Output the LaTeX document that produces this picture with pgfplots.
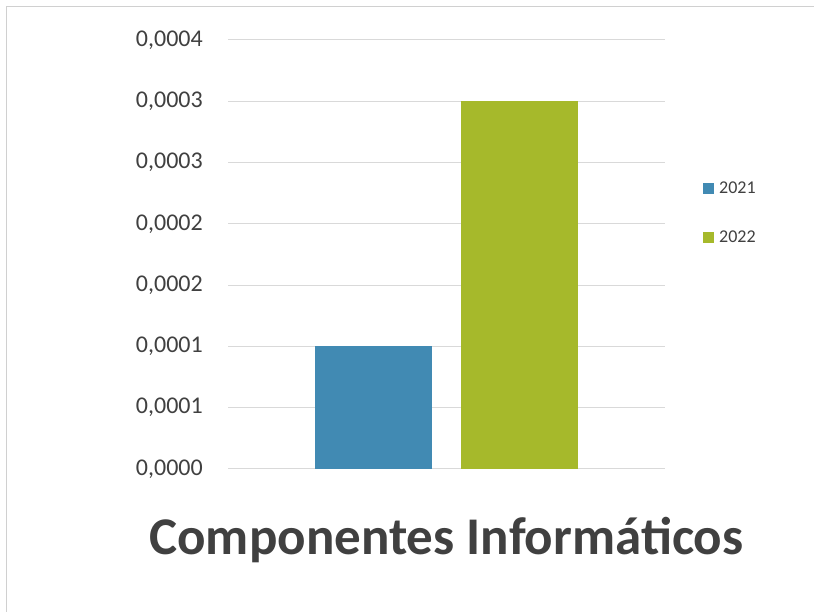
\documentclass[border=0pt]{standalone}
\usepackage{fontspec}
\setmainfont{Carlito}
\usepackage{pgfplots}
\pgfplotsset{compat=1.18}
\definecolor{blue21}{HTML}{418AB3}
\definecolor{green22}{HTML}{A6B92B}
\definecolor{gridc}{HTML}{D9D9D9}
\definecolor{framec}{HTML}{D0D0D0}
\definecolor{txt}{HTML}{404040}
\begin{document}
\begin{tikzpicture}[x=1pt,y=1pt]
\useasboundingbox (0,0) rectangle (814,612);
\fill[white] (0,0) rectangle (814,612);
\draw[color=framec, line width=1pt] (6.5,0) -- (6.5,605.5) -- (814,605.5);
\begin{axis}[
  at={(228pt,143pt)}, anchor=south west,
  scale only axis, width=437pt, height=429pt,
  xmin=-1, xmax=1, ymin=0, ymax=0.00035,
  xtick=\empty,
  ytick={0,0.00005,0.0001,0.00015,0.0002,0.00025,0.0003,0.00035},
  yticklabels={{0,0000},{0,0001},{0,0001},{0,0002},{0,0002},{0,0003},{0,0003},{0,0004}},
  scaled y ticks=false,
  major tick length=0pt,
  axis line style={draw=none},
  ymajorgrids, grid style={color=gridc, line width=1pt},
  yticklabel style={font=\fontsize{24}{24}\selectfont, text=txt, anchor=east, inner sep=0pt, xshift=-25pt},
  legend style={at={(1.087,0.597)}, anchor=west, draw=none, fill=none,
    font=\fontsize{18}{18}\selectfont, text=txt, row sep=34pt, inner sep=0pt,
    nodes={inner sep=1pt}},
  legend cell align=left,
  /tikz/every odd column/.style={column sep=4pt},
]
\addplot[ybar, bar width=117pt, bar shift=0pt, fill=blue21, draw=none,
  legend image code/.code={\fill[blue21] (0pt,-5.5pt) rectangle (11pt,5.5pt);}]
  coordinates {(-0.334,0.0001)};
\addlegendentry{2021}
\addplot[ybar, bar width=117pt, bar shift=0pt, fill=green22, draw=none,
  legend image code/.code={\fill[green22] (0pt,-5.5pt) rectangle (11pt,5.5pt);}]
  coordinates {(0.332,0.0003)};
\addlegendentry{2022}
\end{axis}
\node[anchor=base, text=txt, font=\fontsize{53}{53}\selectfont\bfseries, inner sep=0pt] at (446.5,57) {Componentes Informáticos};
\end{tikzpicture}
\end{document}
